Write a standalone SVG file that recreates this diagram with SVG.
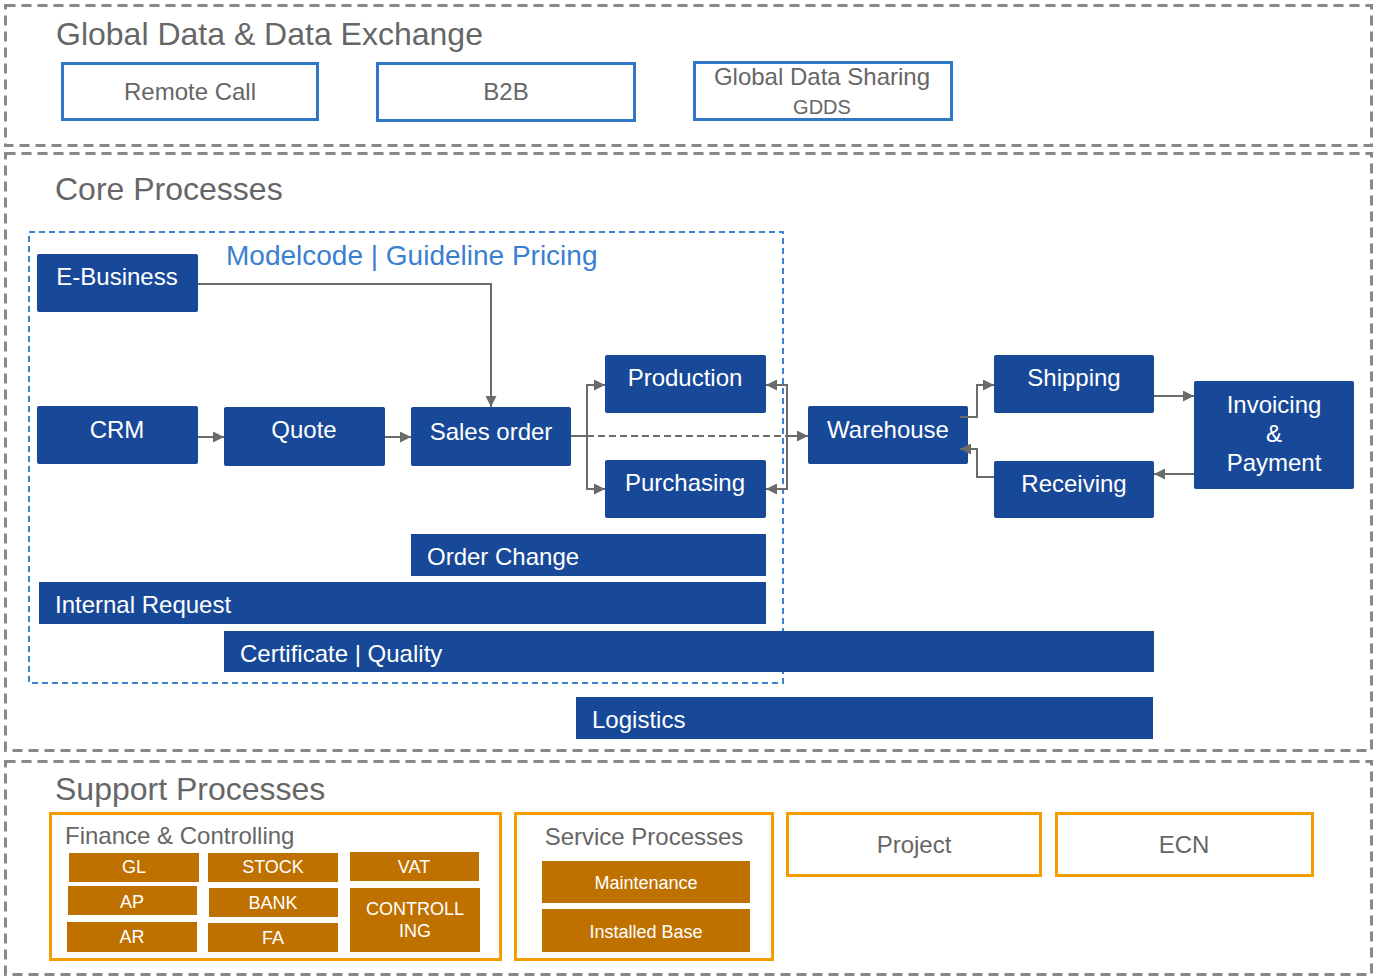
<svg xmlns="http://www.w3.org/2000/svg" width="1376" height="977" viewBox="0 0 1376 977">
<style>
text{font-family:"Liberation Sans",Arial,sans-serif}
.sec{fill:none;stroke:#888;stroke-width:3;stroke-dasharray:10 6}
.title{font-size:32px;fill:#666}
.gx{fill:#fff;stroke:#2F78C8;stroke-width:3}
.gt{font-size:24px;fill:#666;text-anchor:middle}
.node{fill:#184998}
.nt{font-size:24px;fill:#fff;text-anchor:middle}
.bt{font-size:24px;fill:#fff}
.ob{fill:#fff;stroke:#F59C00;stroke-width:3}
.fb{fill:#BF7100}
.ft{font-size:18px;fill:#fff;text-anchor:middle}
.con{fill:none;stroke:#6b6b6b;stroke-width:2}
</style>
<defs>
<marker id="arr" viewBox="0 0 10 10" refX="10" refY="5" markerWidth="5.5" markerHeight="5.5" markerUnits="strokeWidth" orient="auto">
<path d="M0,0 L10,5 L0,10 z" fill="#6b6b6b"/>
</marker>
</defs>
<rect width="1376" height="977" fill="#fff"/>

<g id="global-data">
<rect class="sec" x="5.5" y="5.5" width="1366" height="140"/>
<text class="title" x="56" y="45">Global Data &amp; Data Exchange</text>
<g id="remote-call"><rect class="gx" x="62.5" y="63.5" width="255" height="56"/><text class="gt" x="190" y="100">Remote Call</text></g>
<g id="b2b"><rect class="gx" x="377.5" y="63.5" width="257" height="57"/><text class="gt" x="506" y="100">B2B</text></g>
<g id="gdds"><rect class="gx" x="694.5" y="62.5" width="257" height="57"/><text class="gt" x="822" y="85">Global Data Sharing</text><text class="gt" x="822" y="114" style="font-size:20px">GDDS</text></g>
</g>

<g id="core">
<rect class="sec" x="5.5" y="153.5" width="1366" height="597"/>
<text class="title" x="55" y="200">Core Processes</text>
<rect id="modelcode-area" x="29" y="232" width="754" height="451" fill="none" stroke="#3B82D0" stroke-width="2" stroke-dasharray="6 4"/>
<text x="226" y="265" style="font-size:28px;fill:#3A7FD0">Modelcode | Guideline Pricing</text>
</g>

<g id="e-business"><rect class="node" x="37" y="254" width="161" height="58" rx="2"/><text class="nt" x="117" y="285">E-Business</text></g>
<g id="crm"><rect class="node" x="37" y="406" width="161" height="58" rx="2"/><text class="nt" x="117" y="438">CRM</text></g>
<g id="quote"><rect class="node" x="224" y="407" width="161" height="59" rx="2"/><text class="nt" x="304" y="438">Quote</text></g>
<g id="sales-order"><rect class="node" x="411" y="407" width="160" height="59" rx="2"/><text class="nt" x="491" y="440">Sales order</text></g>
<g id="production"><rect class="node" x="605" y="355" width="161" height="58" rx="2"/><text class="nt" x="685" y="386">Production</text></g>
<g id="purchasing"><rect class="node" x="605" y="460" width="161" height="58" rx="2"/><text class="nt" x="685" y="491">Purchasing</text></g>
<g id="warehouse"><rect class="node" x="808" y="406" width="160" height="58" rx="2"/><text class="nt" x="888" y="438">Warehouse</text></g>
<g id="shipping"><rect class="node" x="994" y="355" width="160" height="58" rx="2"/><text class="nt" x="1074" y="386">Shipping</text></g>
<g id="receiving"><rect class="node" x="994" y="461" width="160" height="57" rx="2"/><text class="nt" x="1074" y="492">Receiving</text></g>
<g id="invoicing"><rect class="node" x="1194" y="381" width="160" height="108" rx="2"/><text class="nt" x="1274" y="413">Invoicing</text><text class="nt" x="1274" y="442">&amp;</text><text class="nt" x="1274" y="471">Payment</text></g>

<g id="order-change"><rect class="node" x="411" y="534" width="355" height="42"/><text class="bt" x="427" y="565">Order Change</text></g>
<g id="internal-request"><rect class="node" x="39" y="582" width="727" height="42"/><text class="bt" x="55" y="613">Internal Request</text></g>
<g id="certificate-quality"><rect class="node" x="224" y="631" width="930" height="41"/><text class="bt" x="240" y="662">Certificate | Quality</text></g>
<g id="logistics"><rect class="node" x="576" y="697" width="577" height="42"/><text class="bt" x="592" y="728">Logistics</text></g>

<g id="connectors">
<path class="con" d="M198,284 H491 V407" marker-end="url(#arr)"/>
<path class="con" d="M198,437 H224" marker-end="url(#arr)"/>
<path class="con" d="M385,437 H411" marker-end="url(#arr)"/>
<path class="con" d="M571,436 H587"/>
<path class="con" d="M587,436 V385 H605" marker-end="url(#arr)"/>
<path class="con" d="M587,436 V489 H605" marker-end="url(#arr)"/>
<path class="con" d="M587,436 H787" stroke-dasharray="7 4"/>
<path class="con" d="M787,436 V385 H766" marker-end="url(#arr)"/>
<path class="con" d="M787,436 V489 H766" marker-end="url(#arr)"/>
<path class="con" d="M787,436 H808" marker-end="url(#arr)"/>
<path class="con" d="M960,417 H977 V385 H994" marker-end="url(#arr)"/>
<path class="con" d="M1154,396 H1194" marker-end="url(#arr)"/>
<path class="con" d="M1194,474 H1154" marker-end="url(#arr)"/>
<path class="con" d="M994,477 H977 V449 H960" marker-end="url(#arr)"/>
</g>

<g id="support">
<rect class="sec" x="5.5" y="761.5" width="1366" height="213"/>
<text class="title" x="55" y="800">Support Processes</text>
</g>

<g id="finance">
<rect class="ob" x="50.5" y="813.5" width="450" height="146"/>
<text x="65" y="844" style="font-size:24px;fill:#666">Finance &amp; Controlling</text>
<rect class="fb" x="69" y="853" width="130" height="29"/><text class="ft" x="134" y="873">GL</text>
<rect class="fb" x="208" y="853" width="130" height="29"/><text class="ft" x="273" y="873">STOCK</text>
<rect class="fb" x="350" y="852" width="129" height="29"/><text class="ft" x="414" y="873">VAT</text>
<rect class="fb" x="68" y="886" width="129" height="29"/><text class="ft" x="132" y="908">AP</text>
<rect class="fb" x="209" y="888" width="129" height="29"/><text class="ft" x="273" y="909">BANK</text>
<rect class="fb" x="350" y="888" width="130" height="64"/><text class="ft" x="415" y="915">CONTROLL</text><text class="ft" x="415" y="937">ING</text>
<rect class="fb" x="67" y="922" width="130" height="30"/><text class="ft" x="132" y="943">AR</text>
<rect class="fb" x="208" y="923" width="130" height="29"/><text class="ft" x="273" y="944">FA</text>
</g>

<g id="service">
<rect class="ob" x="515.5" y="813.5" width="257" height="146"/>
<text x="644" y="845" style="font-size:24px;fill:#666;text-anchor:middle">Service Processes</text>
<rect class="fb" x="542" y="861" width="208" height="42"/><text class="ft" x="646" y="889">Maintenance</text>
<rect class="fb" x="542" y="909" width="208" height="43"/><text class="ft" x="646" y="938">Installed Base</text>
</g>

<g id="project"><rect class="ob" x="787.5" y="813.5" width="253" height="62"/><text class="gt" x="914" y="853">Project</text></g>
<g id="ecn"><rect class="ob" x="1056.5" y="813.5" width="256" height="62"/><text class="gt" x="1184" y="853">ECN</text></g>
</svg>
